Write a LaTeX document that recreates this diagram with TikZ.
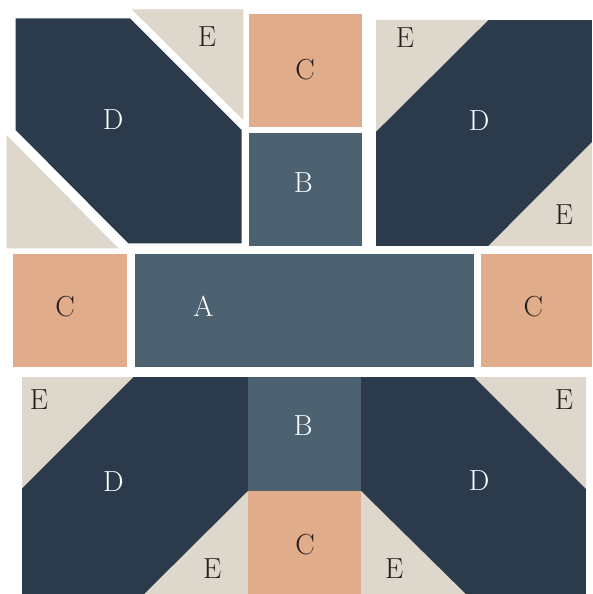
\documentclass[tikz,border=0pt]{standalone}
\definecolor{navy}{RGB}{43,59,75}
\definecolor{slate}{RGB}{76,98,113}
\definecolor{peach}{RGB}{225,172,138}
\definecolor{beige}{RGB}{222,215,203}
\definecolor{ink}{RGB}{35,31,32}
\tikzset{
  dpc/.style={fill=navy},
  bpc/.style={fill=slate},
  cpc/.style={fill=peach},
  epc/.style={fill=beige},
  lbl/.style={font=\fontsize{29}{29}\selectfont, inner sep=0pt, anchor=center},
  lightlbl/.style={lbl, text=white},
  darklbl/.style={lbl, text=ink}
}
\begin{document}
\begin{tikzpicture}[x=1pt,y=-1pt]
\useasboundingbox (0,0) rectangle (592,594);
\fill[white] (0,0) rectangle (592,594);
% top-left block
\fill[dpc] (15.7,18.3) -- (130,18.3) -- (241.7,130) -- (241.7,243.3) -- (128.3,243.3) -- (15.7,130) -- cycle;
\fill[epc] (131.7,9.3) -- (243.3,9.3) -- (243.3,120) -- cycle;
\fill[epc] (6.7,135) -- (6.7,248.3) -- (118.3,248.3) -- cycle;
% top middle
\fill[cpc] (249,14) rectangle (362.3,126.7);
\fill[bpc] (249,132.7) rectangle (362.3,245.7);
% top-right block
\fill[dpc] (376,20) rectangle (592,246);
\fill[epc] (376,20) -- (488.3,20) -- (376,131.7) -- cycle;
\fill[epc] (592,142) -- (592,246) -- (488.3,246) -- cycle;
% middle row
\fill[cpc] (13.3,254) rectangle (126.7,367.3);
\fill[bpc] (135,254) rectangle (474,367.3);
\fill[cpc] (481,254) rectangle (592,367.3);
% bottom block
\fill[dpc] (22,377) rectangle (586,594);
\fill[epc] (22,377) -- (133.3,377) -- (22,488.3) -- cycle;
\fill[epc] (248,491) -- (248,594) -- (144.3,594) -- cycle;
\fill[bpc] (248,377) rectangle (361,491);
\fill[cpc] (248,491) rectangle (361,594);
\fill[epc] (474,377) -- (586,377) -- (586,489) -- cycle;
\fill[epc] (361,491) -- (361,594) -- (465.7,594) -- cycle;
% labels
\node[lightlbl] (d1) at (113,120) {D};
\node[darklbl] (e1) at (207,37) {E};
\node[darklbl] (c1) at (305,70) {C};
\node[lightlbl] (b1) at (303.3,182.7) {B};
\node[darklbl] (e2) at (405,38) {E};
\node[lightlbl] (d2) at (479,120.7) {D};
\node[darklbl] (e3) at (564,215) {E};
\node[darklbl] (c2) at (65,306.7) {C};
\node[lightlbl] (a1) at (203.3,306.7) {A};
\node[darklbl] (c3) at (533.3,306.7) {C};
\node[darklbl] (e4) at (39,399.3) {E};
\node[lightlbl] (d3) at (113.3,481.7) {D};
\node[darklbl] (e5) at (212.3,568.3) {E};
\node[lightlbl] (b2) at (303,426) {B};
\node[darklbl] (c4) at (305,545) {C};
\node[darklbl] (e6) at (564,399.3) {E};
\node[lightlbl] (d4) at (479,481) {D};
\node[darklbl] (e7) at (394.3,569) {E};
\end{tikzpicture}
\end{document}
